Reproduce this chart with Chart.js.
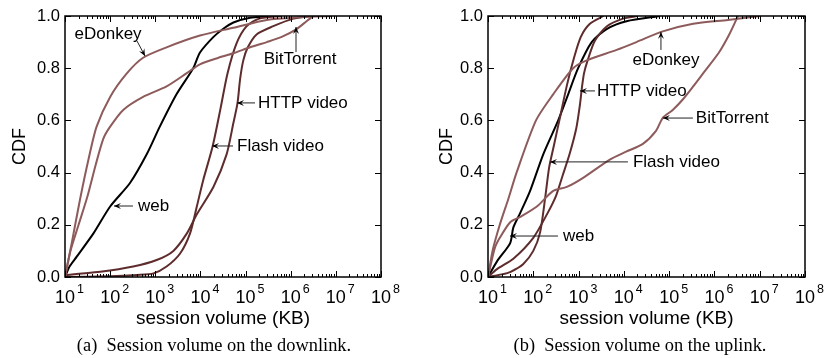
<!DOCTYPE html>
<html><head><meta charset="utf-8">
<script src="https://cdn.jsdelivr.net/npm/chart.js@4"></script>
<style>
html,body{margin:0;padding:0;background:#fff;}
#wrap{position:relative;width:825px;height:358px;overflow:hidden;background:#fff;}
canvas{position:absolute;top:0;}
#c1{left:0;} #c2{left:412px;}
.cap{position:absolute;top:335px;line-height:20px;font-family:"Liberation Serif","Times New Roman",serif;font-size:18.4px;white-space:nowrap;color:#000;transform:translateX(-50%);}
</style></head><body>
<div id="wrap">
<canvas id="c1" width="412" height="358" style="width:412px;height:358px"></canvas>
<canvas id="c2" width="413" height="358" style="width:413px;height:358px"></canvas>
<div class="cap" style="left:214px">(a)&nbsp; Session volume on the downlink.</div>
<div class="cap" style="left:640px">(b)&nbsp; Session volume on the uplink.</div>
</div>
<script>
// ---------- data (session volume in KB, CDF) ----------
const SERIES_NAMES = ['eDonkey', 'BitTorrent', 'web', 'Flash video', 'HTTP video'];
const X_TICK_VALUES = [1e1, 1e2, 1e3, 1e4, 1e5, 1e6, 1e7, 1e8];
const X_TICK_EXPONENTS = ['1', '2', '3', '4', '5', '6', '7', '8'];
const Y_TICK_STEP = 0.2;

// downlink
const DL_EDONKEY_KB  = [10, 14.1, 21.4, 33.1, 50.1, 100, 234, 537, 1778, 9772, 53700, 295000, 1585000, 7943000];
const DL_EDONKEY_CDF = [0, 0.13, 0.295, 0.45, 0.576, 0.69, 0.78, 0.84, 0.88, 0.925, 0.955, 0.985, 0.995, 1.0];
const DL_BT_KB  = [10, 13.2, 20, 31.6, 47.9, 70.8, 100, 195, 537, 1778, 4898, 9772, 25100, 53700, 125900, 295000, 631000, 1349000, 2239000, 3162000];
const DL_BT_CDF = [0, 0.1, 0.2, 0.31, 0.43, 0.53, 0.576, 0.64, 0.69, 0.73, 0.78, 0.815, 0.84, 0.857, 0.88, 0.90, 0.92, 0.95, 0.98, 1.0];
const DL_WEB_KB  = [10, 12.6, 18.2, 42.7, 100, 275, 646, 1259, 2951, 6918, 9772, 19500, 31600, 53700, 125900, 316000];
const DL_WEB_CDF = [0, 0.04, 0.078, 0.167, 0.27, 0.36, 0.47, 0.576, 0.70, 0.80, 0.86, 0.92, 0.95, 0.975, 0.993, 1.0];
const DL_FLASH_KB  = [10, 100, 398, 912, 1778, 3548, 5888, 8318, 11480, 18600, 28200, 39800, 63100, 104700, 199500, 631000];
const DL_FLASH_CDF = [0, 0.003, 0.008, 0.014, 0.04, 0.09, 0.167, 0.27, 0.37, 0.5, 0.65, 0.78, 0.895, 0.96, 0.99, 1.0];
const DL_HTTP_KB  = [10, 11.2, 60.3, 324, 1072, 2512, 5012, 8318, 19500, 38000, 53700, 66100, 75900, 89100, 112200, 177800, 398000, 1148000, 2818000];
const DL_HTTP_CDF = [0, 0.008, 0.02, 0.04, 0.065, 0.10, 0.167, 0.24, 0.346, 0.47, 0.59, 0.665, 0.76, 0.83, 0.88, 0.93, 0.96, 0.99, 1.0];

// uplink
const UL_EDONKEY_KB  = [10, 12.6, 18.2, 28.2, 42.7, 114.8, 275, 759, 1514, 6918, 19000, 69200, 339000, 1995000, 10000000];
const UL_EDONKEY_CDF = [0, 0.1, 0.2, 0.3, 0.4, 0.6, 0.7, 0.8, 0.83, 0.87, 0.9, 0.94, 0.97, 0.985, 1.0];
const UL_BT_KB  = [10, 14.1, 18.2, 30.9, 51.3, 120, 275, 550, 1259, 4898, 11200, 26300, 51300, 72400, 120000, 200000, 339000, 562000, 1259000, 2138000, 3311000];
const UL_BT_CDF = [0, 0.11, 0.15, 0.21, 0.23, 0.27, 0.33, 0.345, 0.38, 0.45, 0.48, 0.51, 0.56, 0.61, 0.64, 0.68, 0.73, 0.78, 0.86, 0.93, 1.0];
const UL_WEB_KB  = [10, 15.8, 30.9, 36.3, 51.3, 85.1, 166, 355, 589, 977, 1950, 4169, 11480, 63100];
const UL_WEB_CDF = [0, 0.06, 0.13, 0.19, 0.245, 0.33, 0.47, 0.6, 0.7, 0.8, 0.9, 0.95, 0.98, 1.0];
const UL_FLASH_KB  = [10, 20, 31.6, 60.3, 100, 141, 182, 224, 282, 398, 562, 794, 1122, 1778, 3548];
const UL_FLASH_CDF = [0, 0.01, 0.02, 0.05, 0.1, 0.17, 0.3, 0.42, 0.5, 0.62, 0.74, 0.84, 0.92, 0.97, 1.0];
const UL_HTTP_KB  = [10, 15.8, 36.3, 100, 200, 316, 447, 631, 891, 1072, 1175, 1318, 1585, 2291, 4169, 9550, 19950];
const UL_HTTP_CDF = [0, 0.03, 0.07, 0.15, 0.24, 0.31, 0.39, 0.47, 0.57, 0.66, 0.72, 0.78, 0.83, 0.905, 0.96, 0.99, 1.0];

// annotations: [label, tipKB, tipCDF, tailKB, tailCDF, textKB, textCDF, align]
const DL_ANNOTS = [
  ['eDonkey', 591, 0.847, 394, 0.904, 89.8, 0.931, 'center'],
  ['BitTorrent', 1.31e6, 0.958, 1.31e6, 0.862, 1.61e6, 0.835, 'center'],
  ['HTTP video', 64600, 0.667, 161900, 0.667, 188800, 0.667, 'left'],
  ['Flash video', 18070, 0.502, 52700, 0.502, 64600, 0.502, 'left'],
  ['web', 121.6, 0.272, 320.6, 0.272, 414, 0.272, 'left']
];
const UL_ANNOTS = [
  ['eDonkey', 65900, 0.939, 65900, 0.870, 85100, 0.831, 'center'],
  ['HTTP video', 1074, 0.713, 2301, 0.713, 2547, 0.713, 'left'],
  ['BitTorrent', 72900, 0.609, 335000, 0.609, 389000, 0.609, 'left'],
  ['Flash video', 234, 0.441, 12300, 0.441, 15850, 0.441, 'left'],
  ['web', 30.6, 0.157, 351, 0.157, 453, 0.157, 'left']
];

const COL_P2P = '#8d5b5b';
const COL_VIDEO = '#5e2c2c';
const COL_WEB = '#000000';
const FONT = '"Liberation Sans", Arial, Helvetica, sans-serif';

function pts(kb, cdf) { return kb.map((v, i) => ({x: v, y: cdf[i]})); }

const frame = {
  id: 'frame',
  afterDraw(chart, args, opts) {
    const {ctx, chartArea: a, scales: {x, y}} = chart;
    ctx.save();
    ctx.strokeStyle = '#000';
    ctx.fillStyle = '#000';
    ctx.lineWidth = 1;
    ctx.beginPath();
    X_TICK_VALUES.forEach((v, i) => {
      const p = Math.round(x.getPixelForValue(v)) + 0.5;
      ctx.moveTo(p, a.bottom); ctx.lineTo(p, a.bottom - 6);
      ctx.moveTo(p, a.top); ctx.lineTo(p, a.top + 6);
      if (i < X_TICK_VALUES.length - 1) {
        for (let m = 2; m <= 9; m++) {
          const q = Math.round(x.getPixelForValue(v * m)) + 0.5;
          ctx.moveTo(q, a.bottom); ctx.lineTo(q, a.bottom - 3);
          ctx.moveTo(q, a.top); ctx.lineTo(q, a.top + 3);
        }
      }
    });
    y.ticks.forEach(t => {
      const p = Math.round(y.getPixelForValue(t.value)) + 0.5;
      ctx.moveTo(a.left, p); ctx.lineTo(a.left + 6, p);
      ctx.moveTo(a.right, p); ctx.lineTo(a.right - 6, p);
    });
    ctx.stroke();
    ctx.lineWidth = 1.5;
    ctx.strokeRect(a.left, a.top, a.right - a.left, a.bottom - a.top);

    // x tick labels 10^n
    X_TICK_VALUES.forEach((v, i) => {
      const p = x.getPixelForValue(v);
      ctx.font = '18px ' + FONT;
      ctx.textAlign = 'center';
      ctx.textBaseline = 'alphabetic';
      const w = ctx.measureText('10').width;
      ctx.fillText('10', p, a.bottom + 26);
      ctx.font = '12.5px ' + FONT;
      ctx.textAlign = 'left';
      ctx.fillText(X_TICK_EXPONENTS[i], p + w / 2 + 2, a.bottom + 16);
    });

    // annotations
    (opts.annots || []).forEach(an => {
      const [label, tx, ty, sx, sy, lx, ly, align] = an;
      const tpx = x.getPixelForValue(tx), tpy = y.getPixelForValue(ty);
      const spx = x.getPixelForValue(sx), spy = y.getPixelForValue(sy);
      ctx.strokeStyle = '#222';
      ctx.lineWidth = 1;
      ctx.beginPath();
      ctx.moveTo(spx, spy); ctx.lineTo(tpx, tpy);
      ctx.stroke();
      const ang = Math.atan2(tpy - spy, tpx - spx);
      const L = 7, W = 3;
      ctx.beginPath();
      ctx.moveTo(tpx, tpy);
      ctx.lineTo(tpx - L * Math.cos(ang) + W * Math.sin(ang), tpy - L * Math.sin(ang) - W * Math.cos(ang));
      ctx.lineTo(tpx - 0.6 * L * Math.cos(ang), tpy - 0.6 * L * Math.sin(ang));
      ctx.lineTo(tpx - L * Math.cos(ang) - W * Math.sin(ang), tpy - L * Math.sin(ang) + W * Math.cos(ang));
      ctx.closePath();
      ctx.fill();
      ctx.font = '17px ' + FONT;
      ctx.textAlign = align;
      ctx.textBaseline = 'middle';
      ctx.fillText(label, x.getPixelForValue(lx), y.getPixelForValue(ly));
    });
    ctx.restore();
  }
};

function makeChart(id, sets, annots, yWidth, padRight, yTitlePad) {
  return new Chart(document.getElementById(id), {
    type: 'line',
    data: {
      datasets: sets.map(s => ({
        label: s[0], data: pts(s[1], s[2]), borderColor: s[3], borderWidth: 2,
        pointRadius: 0, fill: false, tension: 0.25
      }))
    },
    options: {
      responsive: false, animation: false, events: [],
      layout: {padding: {left: 0, right: padRight, top: 16, bottom: 0}},
      plugins: {legend: {display: false}, tooltip: {enabled: false}, frame: {annots}},
      scales: {
        x: {
          type: 'logarithmic', min: 10, max: 1e8,
          grid: {display: false, drawTicks: false}, border: {display: false},
          ticks: {display: false},
          title: {display: true, text: 'session volume (KB)', color: '#000',
                  font: {family: FONT, size: 19}, padding: {top: 0, bottom: 27.6}},
          afterFit(s) { s.height = 81; }
        },
        y: {
          min: 0, max: 1,
          grid: {display: false, drawTicks: false}, border: {display: false},
          ticks: {stepSize: Y_TICK_STEP, color: '#000', padding: 5,
                  font: {family: FONT, size: 16.5}, callback: v => v.toFixed(1)},
          title: {display: true, text: 'CDF', color: '#000',
                  font: {family: FONT, size: 18}, padding: {top: yTitlePad, bottom: 0}},
          afterFit(s) { s.width = yWidth; }
        }
      }
    },
    plugins: [frame]
  });
}

makeChart('c1', [
  [SERIES_NAMES[0], DL_EDONKEY_KB, DL_EDONKEY_CDF, COL_P2P],
  [SERIES_NAMES[1], DL_BT_KB, DL_BT_CDF, COL_P2P],
  [SERIES_NAMES[3], DL_FLASH_KB, DL_FLASH_CDF, COL_VIDEO],
  [SERIES_NAMES[4], DL_HTTP_KB, DL_HTTP_CDF, COL_VIDEO],
  [SERIES_NAMES[2], DL_WEB_KB, DL_WEB_CDF, COL_WEB]
], DL_ANNOTS, 65, 31, 9.2);

makeChart('c2', [
  [SERIES_NAMES[0], UL_EDONKEY_KB, UL_EDONKEY_CDF, COL_P2P],
  [SERIES_NAMES[1], UL_BT_KB, UL_BT_CDF, COL_P2P],
  [SERIES_NAMES[3], UL_FLASH_KB, UL_FLASH_CDF, COL_VIDEO],
  [SERIES_NAMES[4], UL_HTTP_KB, UL_HTTP_CDF, COL_VIDEO],
  [SERIES_NAMES[2], UL_WEB_KB, UL_WEB_CDF, COL_WEB]
], UL_ANNOTS, 76, 20, 24.2);
</script>
</body></html>
